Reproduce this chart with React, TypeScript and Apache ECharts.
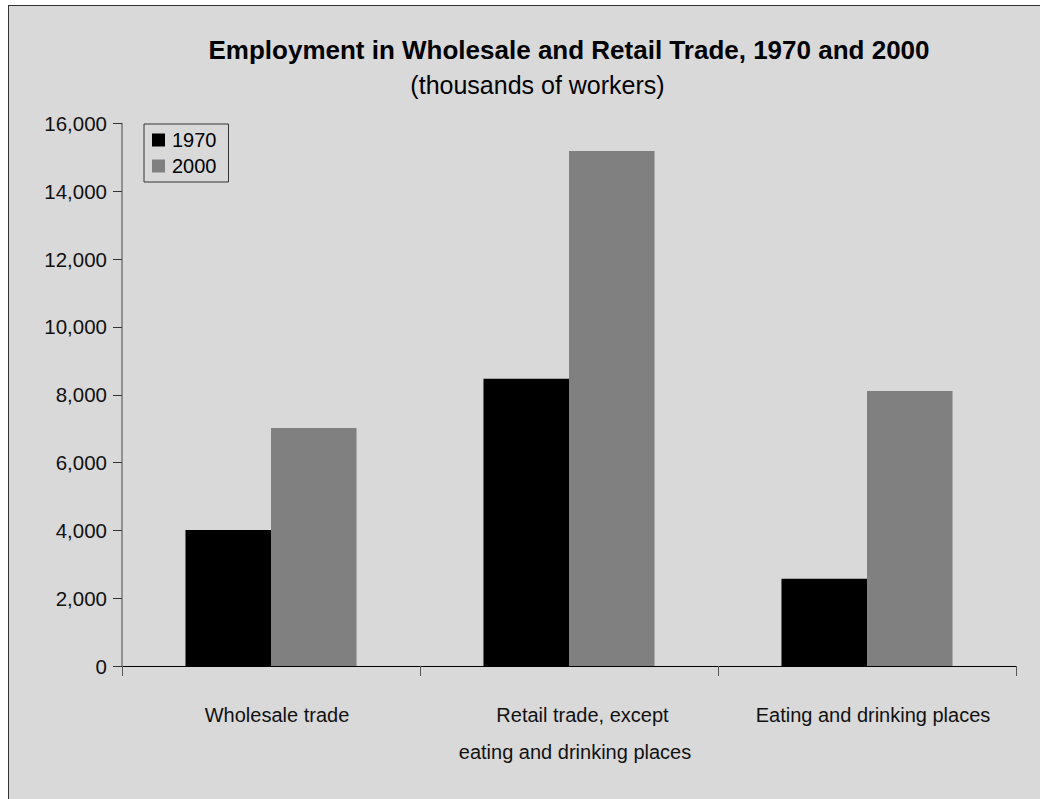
import React, { useEffect, useRef } from "react";
import * as echarts from "echarts";

const categories = [
  "Wholesale trade",
  "Retail trade, except\neating and drinking places",
  "Eating and drinking places",
];
const seriesNames = ["1970", "2000"];
const values1970 = [4010, 8470, 2570];
const values2000 = [7020, 15190, 8110];
const yTicks = [0, 2000, 4000, 6000, 8000, 10000, 12000, 14000, 16000];

const FONT = "'Liberation Sans', Arial, Helvetica, sans-serif";

export default function App() {
  const ref = useRef<HTMLDivElement>(null);

  useEffect(() => {
    if (!ref.current) return;
    const chart = echarts.init(ref.current, undefined, { renderer: "svg" });
    const labelStyle = { fontFamily: FONT, fontSize: 20, lineHeight: 37, color: "#111" };
    chart.setOption({
      animation: false,
      backgroundColor: "transparent",
      textStyle: { fontFamily: FONT, color: "#000" },
      title: [
        {
          text: "Employment in Wholesale and Retail Trade, 1970 and 2000",
          left: 560,
          top: 31,
          textAlign: "center",
          padding: 0,
          textStyle: { fontFamily: FONT, fontSize: 26, fontWeight: "bold", color: "#000", lineHeight: 26 },
        },
        {
          text: "(thousands of workers)",
          left: 528.5,
          top: 66,
          textAlign: "center",
          padding: 0,
          textStyle: { fontFamily: FONT, fontSize: 25, fontWeight: "normal", color: "#000", lineHeight: 26 },
        },
      ],
      legend: {
        data: seriesNames,
        orient: "vertical",
        left: 135,
        top: 118,
        padding: [3, 12, 3, 8],
        itemGap: 0,
        itemWidth: 13,
        itemHeight: 13,
        icon: "rect",
        borderColor: "#333",
        borderWidth: 1,
        backgroundColor: "transparent",
        textStyle: { fontFamily: FONT, fontSize: 20, color: "#000", lineHeight: 26, padding: [0, 0, 0, 2] },
      },
      grid: { left: 113, top: 117.5, width: 894, height: 542.5, containLabel: false },
      xAxis: {
        type: "category",
        data: categories,
        axisLine: { show: true, lineStyle: { color: "#000", width: 1 } },
        axisTick: { show: true, length: 10, lineStyle: { color: "#555", width: 1 } },
        axisLabel: {
          interval: 0,
          margin: 30,
          ...labelStyle,
          padding: [0, 0, 0, 12],
          formatter: (v: string) => {
            const lines = v.split("\n");
            return lines.length > 1
              ? `{a|${lines[0]}}\n{b|${lines[1]}}`
              : `{b|${v}}`;
          },
          rich: {
            a: { ...labelStyle, padding: [0, 0, 0, 15] },
            b: { ...labelStyle },
          },
        },
        splitLine: { show: false },
      },
      yAxis: {
        type: "value",
        min: yTicks[0],
        max: yTicks[yTicks.length - 1],
        interval: yTicks[1] - yTicks[0],
        axisLine: { show: true, lineStyle: { color: "#777", width: 1.5 } },
        axisTick: { show: true, length: 9, lineStyle: { color: "#333", width: 1 } },
        axisLabel: {
          margin: 15,
          fontFamily: FONT,
          fontSize: 20.5,
          color: "#111",
          formatter: (v: number) => v.toLocaleString("en-US"),
        },
        splitLine: { show: false },
      },
      series: [
        {
          name: seriesNames[0],
          type: "bar",
          data: values1970,
          barGap: "0%",
          barCategoryGap: "42.6%",
          itemStyle: { color: "#000000" },
        },
        {
          name: seriesNames[1],
          type: "bar",
          data: values2000,
          barGap: "0%",
          barCategoryGap: "42.6%",
          itemStyle: { color: "#808080" },
        },
      ],
    });
    return () => chart.dispose();
  }, []);

  return (
    <div
      style={{
        position: "fixed",
        left: 8,
        top: 5,
        width: 1040,
        height: 800,
        border: "1px solid #333",
        background: "#d9d9d9",
      }}
    >
      <div ref={ref} style={{ width: 1040, height: 800 }} />
    </div>
  );
}
